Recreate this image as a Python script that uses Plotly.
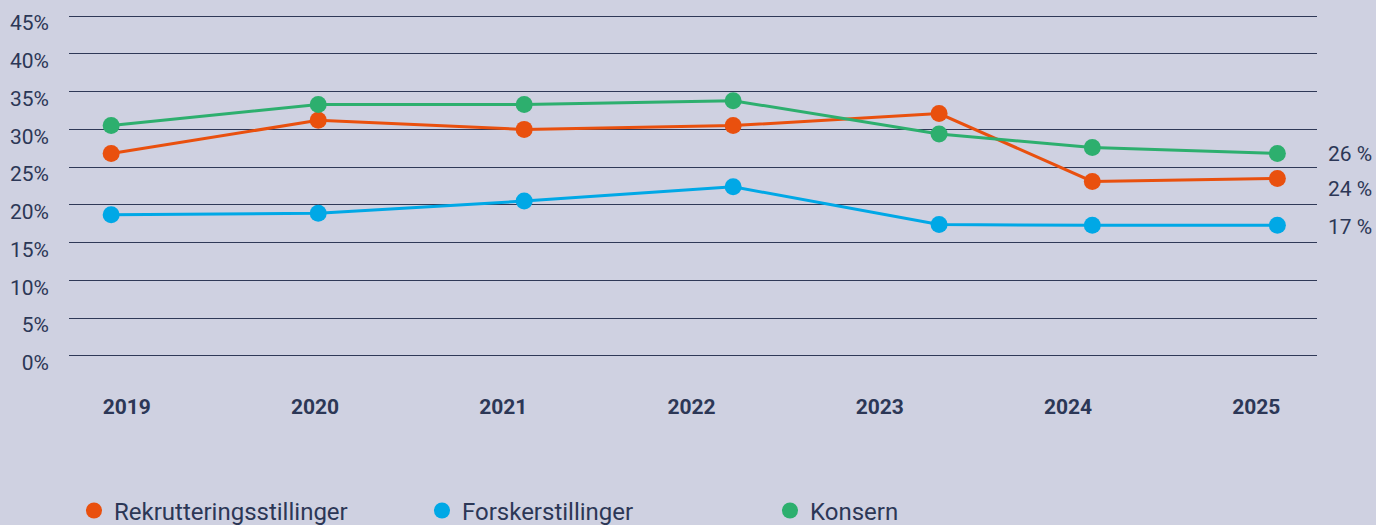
import plotly.graph_objects as go

# Data
years = ["2019", "2020", "2021", "2022", "2023", "2024", "2025"]
year_ticks = [2019, 2020, 2021, 2022, 2023, 2024, 2025]
# measurement positions along the time axis (as drawn in the source)
point_x = [2018.917, 2020.017, 2021.111, 2022.221, 2023.315, 2024.129, 2025.112]

rekruttering = [26.8, 31.2, 30.0, 30.5, 32.1, 23.1, 23.5]
forsker = [18.7, 18.9, 20.5, 22.4, 17.4, 17.3, 17.3]
konsern = [30.5, 33.3, 33.3, 33.8, 29.4, 27.6, 26.8]

series_names = ["Rekrutteringsstillinger", "Forskerstillinger", "Konsern"]
series_values = [rekruttering, forsker, konsern]
colors = ["#e9500e", "#00a8e6", "#2daf6e"]
end_labels = ["24 %", "17 %", "26 %"]
end_label_shift = [-11, -2, 0]

y_ticks = [0, 5, 10, 15, 20, 25, 30, 35, 40, 45]
y_ticktext = [f"{v}%" for v in y_ticks]

TEXT = "#2c3756"
BG = "#cfd1e1"
GRID = "#2f3957"

fig = go.Figure()
for name, vals, col in zip(series_names, series_values, colors):
    fig.add_trace(go.Scatter(
        x=point_x, y=vals, name=name, mode="lines+markers",
        line=dict(color=col, width=3),
        marker=dict(color=col, size=17),
        hoverinfo="skip", showlegend=False, legendgroup=name,
    ))
# legend entries (markers only)
for name, col in zip(series_names, colors):
    fig.add_trace(go.Scatter(
        x=[None], y=[None], name=name, mode="markers",
        marker=dict(color=col, size=20), legendgroup=name,
    ))

for txt, vals, shift in zip(end_labels, series_values, end_label_shift):
    fig.add_annotation(
        x=1, xref="paper", y=vals[-1], yref="y",
        text=txt, showarrow=False, xanchor="left", yanchor="middle",
        xshift=9, yshift=shift,
        font=dict(family="Roboto", size=21, color=TEXT),
    )

fig.update_layout(
    width=1376, height=525,
    paper_bgcolor=BG, plot_bgcolor=BG,
    margin=dict(l=69, r=59, t=15, b=168, pad=0, autoexpand=False),
    font=dict(family="Roboto", color=TEXT),
    showlegend=True,
    legend=dict(
        orientation="h", x=0.004, xanchor="left", y=-0.45, yanchor="middle",
        font=dict(family="Roboto", size=24, color=TEXT),
        entrywidth=303, entrywidthmode="pixels",
        bgcolor="rgba(0,0,0,0)",
    ),
    xaxis=dict(
        range=[2018.693, 2025.3225],
        tickmode="array", tickvals=year_ticks, ticktext=years,
        tickfont=dict(family="Roboto", size=21, color=TEXT, weight="bold"),
        showgrid=False, zeroline=False, showline=False, ticks="",
        ticklabelstandoff=35,
    ),
    yaxis=dict(
        range=[-0.15, 45.15],
        tickmode="array", tickvals=y_ticks, ticktext=y_ticktext,
        tickfont=dict(family="Roboto", size=21, color=TEXT),
        showgrid=True, gridcolor=GRID, gridwidth=1,
        zeroline=False, showline=False, ticks="",
        ticklabelshift=7, ticklabelstandoff=19,
    ),
)

fig.write_html(
    "out.html",
    config={"displayModeBar": False},
    post_script="document.body.style.margin='0';",
)
